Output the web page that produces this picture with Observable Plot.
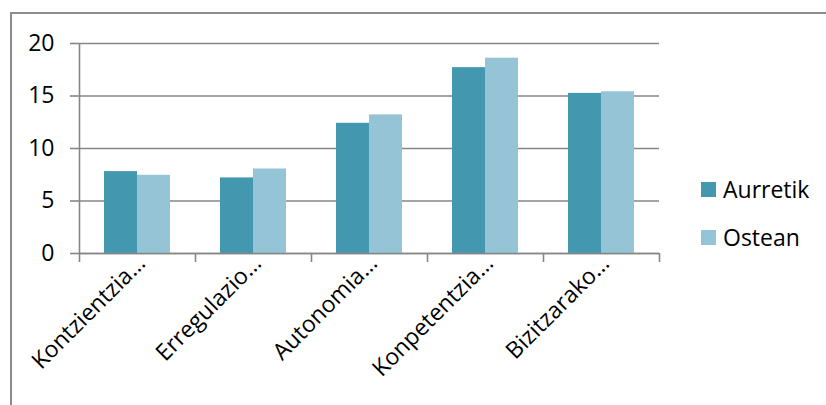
<!DOCTYPE html>
<html>
<head>
<meta charset="utf-8">
<script src="https://cdn.jsdelivr.net/npm/d3@7"></script>
<script src="https://cdn.jsdelivr.net/npm/@observablehq/plot@0.6"></script>
<style>
  html, body { margin: 0; padding: 0; background: #fff; }
  #wrap { position: relative; width: 826px; height: 405px; overflow: hidden; font-family: "Open Sans", sans-serif; }
  #border { position: absolute; left: 10px; top: 12px; width: 900px; height: 500px; border-left: 2px solid #8c8c8c; border-top: 2px solid #8c8c8c; }
  #chart { position: absolute; left: 0; top: 0; }
  #legend { position: absolute; left: 701px; top: 0; font-size: 23px; color: #000; }
  .item { position: absolute; left: 0; display: flex; align-items: center; white-space: nowrap; height: 24px; }
  .sw { width: 15px; height: 15px; margin-right: 7px; }
</style>
</head>
<body>
<div id="wrap">
  <div id="border"></div>
  <div id="chart"></div>
  <div id="legend"></div>
</div>
<script>
const categories = ["Kontzientzia…", "Erregulazio…", "Autonomia…", "Konpetentzia…", "Bizitzarako…"];
const aurretik = [7.8, 7.2, 12.4, 17.7, 15.25];
const ostean = [7.45, 8.05, 13.2, 18.6, 15.4];
const series = ["Aurretik", "Ostean"];
const colors = ["#4398B0", "#94C4D5"];
const yTicks = [0, 5, 10, 15, 20];

const idx = categories.map((_, i) => i);
const gridColor = "#868686";

const chart = Plot.plot({
  width: 826,
  height: 405,
  marginLeft: 79,
  marginRight: 167,
  marginTop: 43,
  marginBottom: 152,
  style: { fontFamily: "'Open Sans', sans-serif", fontSize: "23px", color: "#000", background: "transparent", overflow: "visible" },
  x: { type: "linear", domain: [0, categories.length], axis: null },
  y: { domain: [0, 20], axis: null },
  marks: [
    Plot.gridY(yTicks, { stroke: gridColor, strokeOpacity: 1, strokeWidth: 1.6 }),
    Plot.axisY(yTicks, { tickSize: 9, tickPadding: 16, stroke: gridColor, strokeOpacity: 1, strokeWidth: 1.6, fill: "#000", label: null }),
    Plot.ruleX([0], { stroke: gridColor, strokeWidth: 1.6 }),
    Plot.axisX(d3.range(categories.length + 1), { tickSize: 9, tickFormat: () => "", stroke: gridColor, strokeOpacity: 1, strokeWidth: 1.6, label: null }),
    Plot.rectY(idx, { x1: i => i, x2: i => i + 1, y: i => aurretik[i], fill: colors[0], insetLeft: 25, insetRight: 58 }),
    Plot.rectY(idx, { x1: i => i, x2: i => i + 1, y: i => ostean[i], fill: colors[1], insetLeft: 58, insetRight: 25 }),
    Plot.ruleY([0], { stroke: gridColor, strokeWidth: 1.6 }),
    Plot.axisX(idx.map(i => i + 0.5), { tickSize: 0, tickPadding: 0, tickRotate: -45, tickFormat: v => categories[Math.floor(v)], fill: "#000", label: null, dx: 4, dy: 6 })
  ]
});
document.getElementById("chart").appendChild(chart);

const legend = document.getElementById("legend");
series.forEach((s, i) => {
  const item = document.createElement("div");
  item.className = "item";
  item.style.top = (177 + i * 48) + "px";
  const sw = document.createElement("div");
  sw.className = "sw";
  sw.style.background = colors[i];
  const t = document.createElement("span");
  t.textContent = s;
  item.appendChild(sw);
  item.appendChild(t);
  legend.appendChild(item);
});
</script>
</body>
</html>
